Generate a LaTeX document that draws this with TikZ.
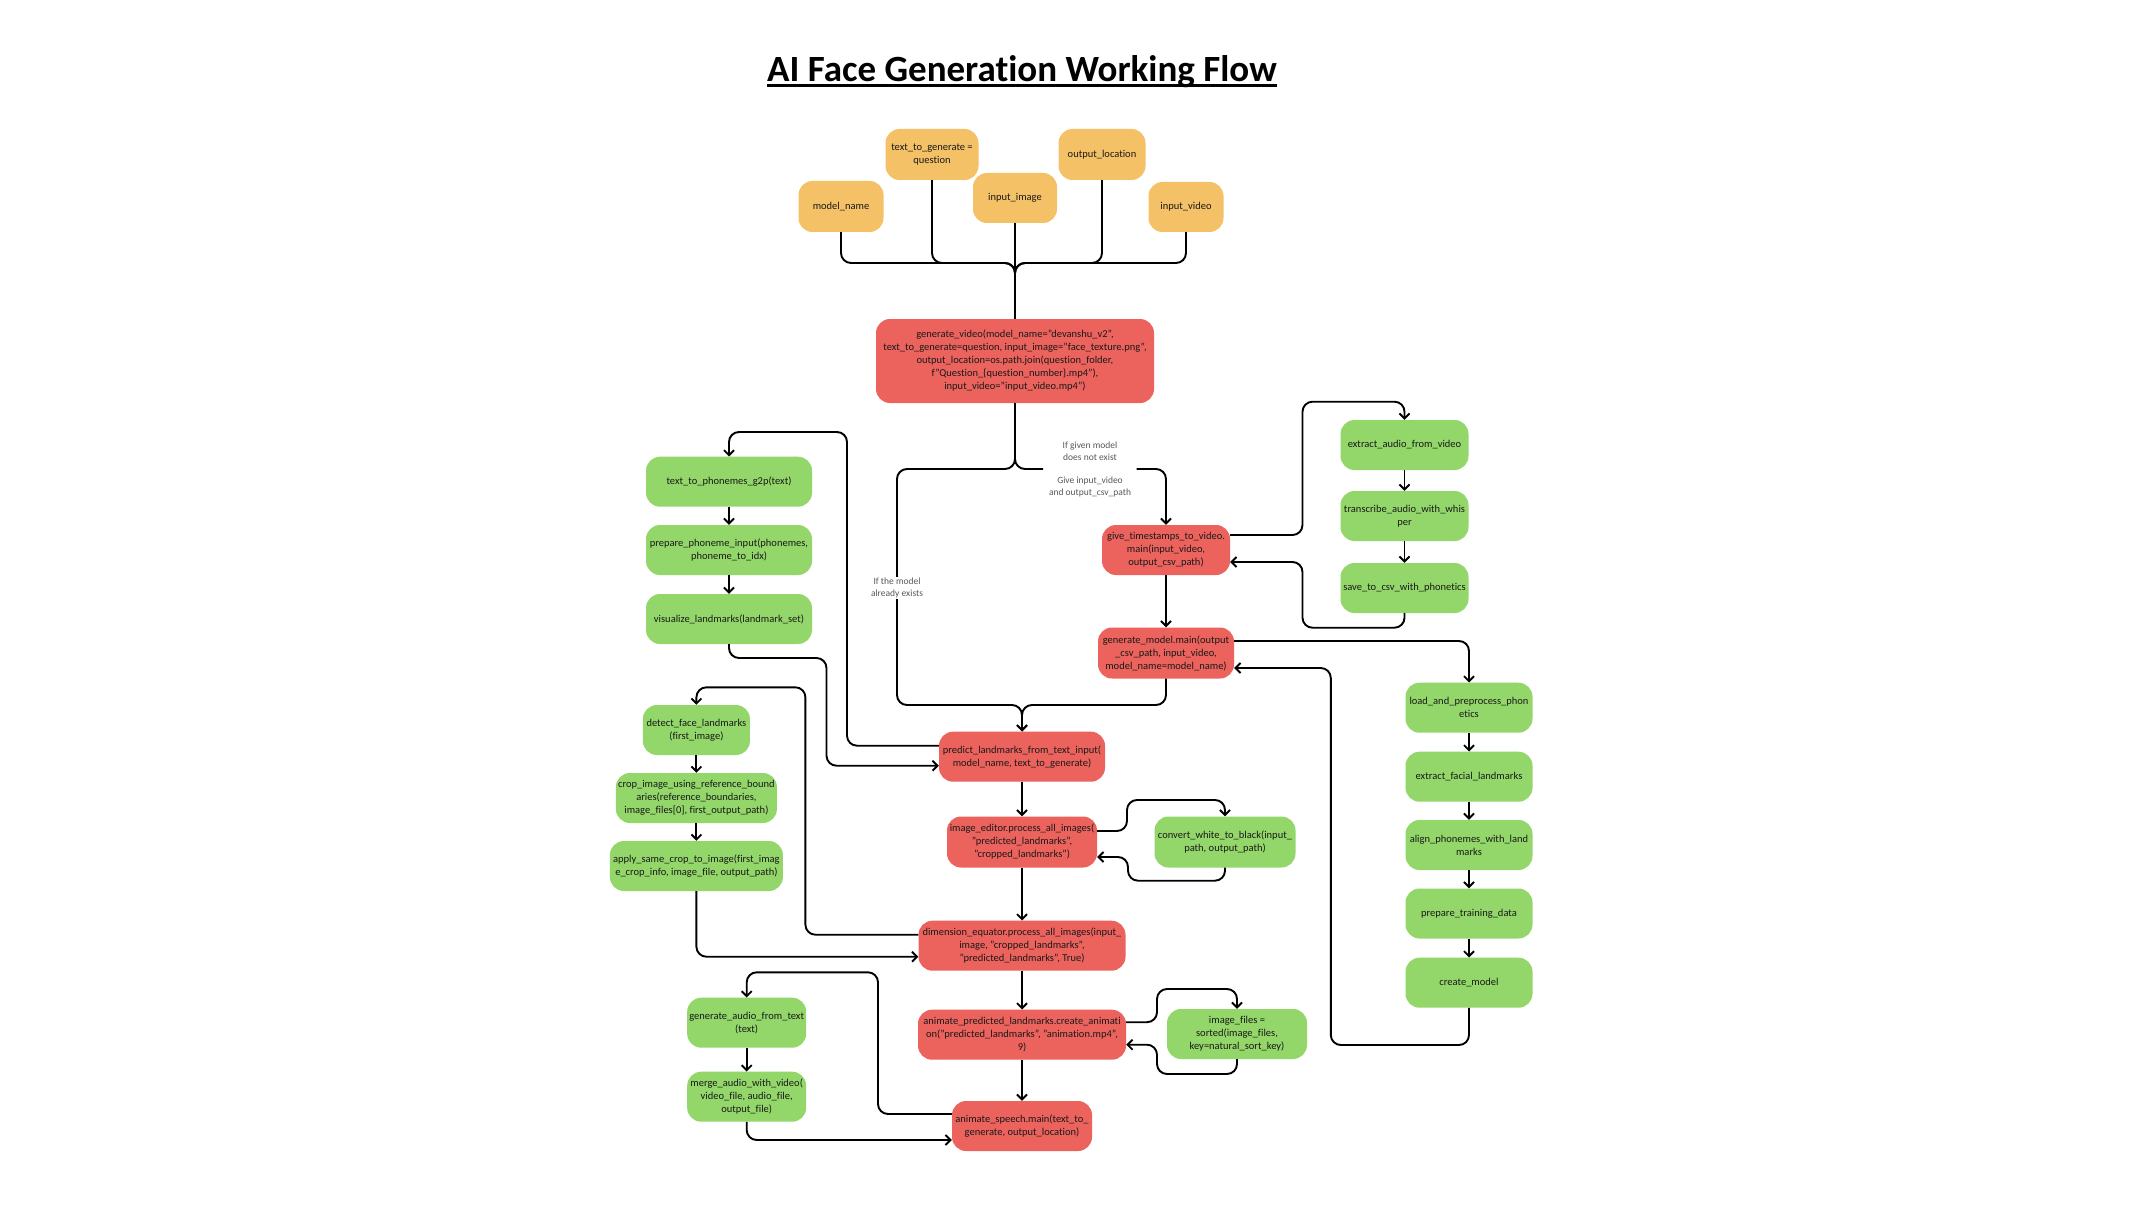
\documentclass[tikz,border=0pt]{standalone}
\usepackage{fontspec}
\setmainfont{Carlito}[Ligatures=NoCommon]
\usetikzlibrary{arrows.meta,calc}
\definecolor{orng}{RGB}{244,193,103}
\definecolor{redb}{RGB}{236,99,94}
\definecolor{grnb}{RGB}{147,215,106}
\definecolor{txt}{RGB}{25,25,25}
\begin{document}
\begin{tikzpicture}[x=1pt,y=-1pt,
  box/.style={rounded corners=14pt, inner sep=1pt, align=center, text=txt, font=\fontsize{10.5}{13}\selectfont},
  ob/.style={box, fill=orng},
  rb/.style={box, fill=redb},
  gb/.style={box, fill=grnb},
  conn/.style={draw=black, line width=1.9pt, rounded corners=10pt},
  arr/.style={conn, -{Straight Barb[length=5pt,width=10pt]}},
  lbl/.style={font=\fontsize{9.5}{11.5}\selectfont, text=black!65, align=center, inner sep=1pt}
]
\useasboundingbox (0,0) rectangle (2144,1206);
\fill[white] (0,0) rectangle (2144,1206);

% title
\node[font=\fontsize{37}{40}\selectfont\bfseries, inner sep=0, anchor=base] (title) at (1022,82) {AI Face Generation Working Flow};
\draw[line width=2.2pt] ([yshift=-3.5pt]title.base west) -- ([yshift=-3.5pt]title.base east);

% inputs
\node[ob, minimum width=85pt, minimum height=51pt] (mn) at (841,206.5) {model\_name};
\node[ob, minimum width=93pt, minimum height=51pt] (tg) at (932,154.5) {text\_to\_generate =\\question};
\node[ob, minimum width=84pt, minimum height=50pt] (ii) at (1015,198) {input\_image};
\node[ob, minimum width=87pt, minimum height=51pt] (ol) at (1102,154.5) {output\_location};
\node[ob, minimum width=75pt, minimum height=50pt] (iv) at (1186,207) {input\_video};

% red nodes
\node[rb, minimum width=278pt, minimum height=84pt] (gv) at (1015,361) {generate\_video(model\_name="devanshu\_v2",\\text\_to\_generate=question, input\_image="face\_texture.png",\\output\_location=os.path.join(question\_folder,\\f"Question\_\{question\_number\}.mp4"),\\input\_video="input\_video.mp4")};
\node[rb, minimum width=128pt, minimum height=50pt] (gt) at (1166,550) {give\_timestamps\_to\_video.\\main(input\_video,\\output\_csv\_path)};
\node[rb, minimum width=136pt, minimum height=51pt] (gm) at (1166,653) {generate\_model.main(output\\\_csv\_path, input\_video,\\model\_name=model\_name)};
\node[rb, minimum width=166pt, minimum height=50pt] (pl) at (1022,756.7) {predict\_landmarks\_from\_text\_input(\\model\_name, text\_to\_generate)};
\node[rb, minimum width=150pt, minimum height=51pt] (ie) at (1022,842) {image\_editor.process\_all\_images(\\"predicted\_landmarks",\\"cropped\_landmarks")};
\node[rb, minimum width=207pt, minimum height=50pt] (de) at (1022,945.7) {dimension\_equator.process\_all\_images(input\_\\image, "cropped\_landmarks",\\"predicted\_landmarks", True)};
\node[rb, minimum width=208pt, minimum height=50pt] (ap) at (1022,1034.7) {animate\_predicted\_landmarks.create\_animati\\on("predicted\_landmarks", "animation.mp4",\\9)};
\node[rb, minimum width=140pt, minimum height=50pt] (as) at (1022,1126) {animate\_speech.main(text\_to\_\\generate, output\_location)};

% green nodes left
\node[gb, minimum width=166pt, minimum height=50pt] (tp) at (729,481.7) {text\_to\_phonemes\_g2p(text)};
\node[gb, minimum width=166pt, minimum height=50pt] (pp) at (729,550) {prepare\_phoneme\_input(phonemes,\\phoneme\_to\_idx)};
\node[gb, minimum width=166pt, minimum height=50pt] (vl) at (729,619) {visualize\_landmarks(landmark\_set)};
\node[gb, minimum width=107pt, minimum height=50pt] (df) at (696.4,730) {detect\_face\_landmarks\\(first\_image)};
\node[gb, minimum width=161pt, minimum height=50pt] (ci) at (696.4,798) {crop\_image\_using\_reference\_bound\\aries(reference\_boundaries,\\image\_files[0], first\_output\_path)};
\node[gb, minimum width=173pt, minimum height=50pt] (ac) at (696.4,866) {apply\_same\_crop\_to\_image(first\_imag\\e\_crop\_info, image\_file, output\_path)};
\node[gb, minimum width=119pt, minimum height=50pt] (ga) at (746.7,1022.7) {generate\_audio\_from\_text\\(text)};
\node[gb, minimum width=119pt, minimum height=50pt] (ma) at (746.7,1096.7) {merge\_audio\_with\_video(\\video\_file, audio\_file,\\output\_file)};

% green nodes right
\node[gb, minimum width=128pt, minimum height=50pt] (ea) at (1404.5,445) {extract\_audio\_from\_video};
\node[gb, minimum width=128pt, minimum height=50pt] (ta) at (1404.5,516) {transcribe\_audio\_with\_whis\\per};
\node[gb, minimum width=128pt, minimum height=50pt] (sc) at (1404.5,588) {save\_to\_csv\_with\_phonetics};
\node[gb, minimum width=141pt, minimum height=51pt] (cw) at (1225,842) {convert\_white\_to\_black(input\_\\path, output\_path)};
\node[gb, minimum width=140pt, minimum height=50pt] (if) at (1237,1034) {image\_files =\\sorted(image\_files,\\key=natural\_sort\_key)};
\node[gb, minimum width=127pt, minimum height=50pt] (lp) at (1469,707.7) {load\_and\_preprocess\_phon\\etics};
\node[gb, minimum width=127pt, minimum height=50pt] (ef) at (1469,776.7) {extract\_facial\_landmarks};
\node[gb, minimum width=127pt, minimum height=50pt] (al) at (1469,845) {align\_phonemes\_with\_land\\marks};
\node[gb, minimum width=127pt, minimum height=50pt] (pt) at (1469,913.5) {prepare\_training\_data};
\node[gb, minimum width=127pt, minimum height=50pt] (cm) at (1469,982.7) {create\_model};

% top bus
\coordinate (bus) at (1015,263);
\foreach \n in {mn,tg,ol,iv} \draw[conn] (\n.south) |- (bus) -- (gv.north);
\draw[conn] (ii.south) -- (gv.north);

% split below generate_video
\coordinate (sp) at (1015,469);
\coordinate (gapL) at (1043,469);
\coordinate (gapR) at (1136.7,469);
\draw[arr] (gv.south) -- (sp) -| (897,705) -- (1022,705) -- (pl.north);
\draw[conn] (gv.south) -- (sp) -- (gapL);
\draw[arr] (gapR) -| (gt.north);
\draw[arr] (gt) -- (gm);
\draw[arr] (gm.south) |- (1022,705) -- (pl.north);

% audio sub-flow
\draw[arr] ([yshift=15pt]gt.east) -- (1302.5,535) -- (1302.5,401.7) -| (ea.north);
\draw[arr] (ea) -- (ta);
\draw[arr] (ta) -- (sc);
\draw[arr] (sc.south) -- (1404.5,627.7) -| (1302.5,562) -- ([yshift=-12pt]gt.east);

% model training sub-flow
\draw[arr] ([yshift=12pt]gm.east) -| (lp.north);
\draw[arr] (lp) -- (ef);
\draw[arr] (ef) -- (al);
\draw[arr] (al) -- (pt);
\draw[arr] (pt) -- (cm);
\draw[arr] (cm.south) |- (1330.8,1045) |- ([yshift=-15pt]gm.east);

% phoneme sub-flow
\draw[arr] ([yshift=11pt]pl.west) -| (847,432) -| (tp.north);
\draw[arr] (tp) -- (pp);
\draw[arr] (pp) -- (vl);
\draw[arr] (vl.south) |- (826.5,658) |- ([yshift=-9pt]pl.west);

% main chain
\draw[arr] (pl) -- (ie);
\draw[arr] (ie) -- (de);
\draw[arr] (de) -- (ap);
\draw[arr] (ap) -- (as);

% image editor loop
\draw[arr] ([yshift=11pt]ie.east) -| (1127,800) -| (cw.north);
\draw[arr] (cw.south) |- (1128,880.7) |- ([yshift=-15pt]ie.east);

% crop sub-flow
\draw[arr] ([yshift=11pt]de.west) -| (805.4,687.3) -| (df.north);
\draw[arr] (df) -- (ci);
\draw[arr] (ci) -- (ac);
\draw[arr] (ac.south) |- ([yshift=-11pt]de.west);

% animation loop
\draw[arr] ([yshift=12.5pt]ap.east) -| (1157,989) -| (if.north);
\draw[arr] (if.south) |- (1157,1074) |- ([yshift=-10pt]ap.east);

% audio merge sub-flow
\draw[arr] ([yshift=12pt]as.west) -| (878,972.3) -| (ga.north);
\draw[arr] (ga) -- (ma);
\draw[arr] (ma.south) |- ([yshift=-14pt]as.west);

% labels
\node[lbl, fill=white] (lb1) at (897,588) {If the model\\already exists};
\node[lbl] (lb2) at (1090,451) {If given model\\does not exist};
\node[lbl] (lb3) at (1090,487) {Give input\_video\\and output\_csv\_path};
\end{tikzpicture}
\end{document}
